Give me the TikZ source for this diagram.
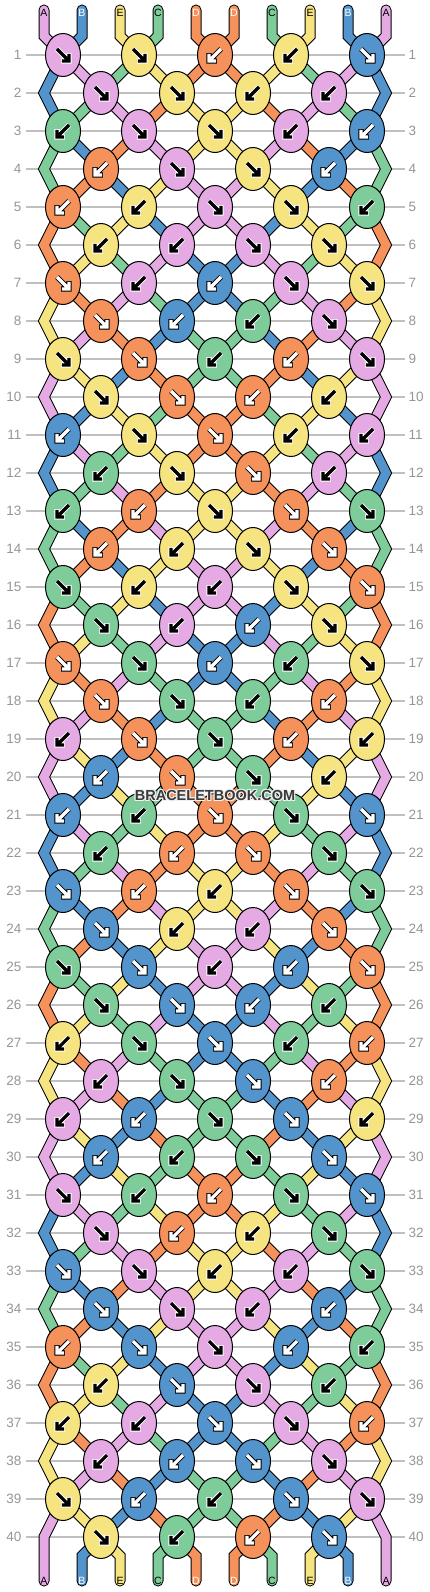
\documentclass[tikz,border=0pt]{standalone}
\usepackage{fontspec}
\setmainfont{Liberation Sans}
\usetikzlibrary{shapes.geometric}
\definecolor{cA}{RGB}{229,170,228}
\definecolor{cB}{RGB}{84,148,204}
\definecolor{cE}{RGB}{245,228,128}
\definecolor{cC}{RGB}{125,204,153}
\definecolor{cD}{RGB}{245,145,90}
\definecolor{gridgrey}{RGB}{192,192,192}
\definecolor{numgrey}{RGB}{150,150,150}
\definecolor{wmgrey}{RGB}{58,58,58}
\def\acolA{black}\def\hcolA{white}
\def\acolE{black}\def\hcolE{white}
\def\acolC{black}\def\hcolC{white}
\def\acolB{white}\def\hcolB{black}
\def\acolD{white}\def\hcolD{black}
\def\sgnR{1}\def\sgnL{-1}
\newcommand\buildpath[1]{%
  \xdef\curp{#1}%
  \pgfmathsetmacro\bpsx{44+38*#1}%
  \xdef\pathacc{(\bpsx,10) -- (\bpsx,36)}%
  \foreach \r in {1,...,40}{%
    \pgfmathtruncatemacro\bpodd{mod(\r,2)}%
    \pgfmathtruncatemacro\pcur{\curp}%
    \ifnum\bpodd=1
      \pgfmathtruncatemacro\bpq{\pcur-2*mod(\pcur,2)+1}%
    \else
      \ifnum\pcur=0 \def\bpq{0}\else\ifnum\pcur=9 \def\bpq{9}\else
        \pgfmathtruncatemacro\bpq{\pcur+2*mod(\pcur,2)-1}%
      \fi\fi
    \fi
    \pgfmathsetmacro\bpnx{44+19*(\pcur+\bpq)}%
    \pgfmathsetmacro\bpny{55+38*(\r-1)}%
    \xdef\pathacc{\pathacc -- (\bpnx,\bpny)}%
    \xdef\curp{\bpq}%
  }%
  \pgfmathsetmacro\bpex{44+38*\curp}%
  \xdef\pathacc{\pathacc -- (\bpex,1556) -- (\bpex,1581)}%
}
\newcommand\knotrow[2]{%
  \foreach \kc/\kd [count=\k from 0] in {#2}{%
    \pgfmathsetmacro\kx{63+76*\k+38*(1-mod(#1,2))}%
    \pgfmathsetmacro\ky{55+38*(#1-1)}%
    \node[knot,fill=c\kc] (k#1-\k) at (\kx,\ky) {};
    \edef\asg{\csname sgn\kd\endcsname}%
    \edef\acl{\csname acol\kc\endcsname}%
    \edef\hcl{\csname hcol\kc\endcsname}%
    \begin{scope}[shift={(\kx,\ky)},xscale=\asg]
      \draw[arrowhalo,draw=\hcl] (-6,-6) -- (6,6) (-1.8,6) -- (6,6) -- (6,-1.8);
      \draw[arrowline,draw=\acl] (-6,-6) -- (6,6) (-1.2,6) -- (6,6) -- (6,-1.2);
    \end{scope}
  }%
}
\begin{document}
\begin{tikzpicture}[x=1pt,y=-1pt,
  gridline/.style={draw=gridgrey,line width=1.2pt},
  rownum/.style={text=numgrey,font=\fontsize{13.5}{14}\selectfont,inner sep=0pt},
  strout/.style={line width=11pt,draw=black,line cap=round,line join=miter},
  strfill/.style={line width=9pt,line cap=round,line join=miter},
  knot/.style={ellipse,draw=black,line width=1pt,minimum width=35pt,minimum height=43pt,inner sep=0pt},
  arrowline/.style={line width=3.2pt,line cap=butt,line join=miter},
  arrowhalo/.style={line width=5.2pt,line cap=butt,line join=miter},
  strlabel/.style={font=\fontsize{10.5}{11}\selectfont,inner sep=0pt},
  wm/.style={font=\bfseries\fontsize{14.5}{15}\selectfont,inner sep=0pt}
]
\useasboundingbox[fill=white] (0,0) rectangle (430,1592);
% grid and row numbers
\foreach \r in {1,...,40}{
  \pgfmathsetmacro\yy{55+38*(\r-1)}
  \coordinate (gl\r) at (26,\yy);
  \coordinate (gr\r) at (405,\yy);
  \draw[gridline] (gl\r) -- (gr\r);
  \node[rownum,anchor=east] (nl\r) at (21.5,\yy) {\r};
  \node[rownum,anchor=west] (nr\r) at (408.5,\yy) {\r};
}
% strings
\foreach \p in {0,...,9}{
  \buildpath{\p}
  \edef\tmp{\noexpand\draw[strout] \pathacc;}\tmp
}
\foreach \p/\c in {0/cA,1/cB,2/cE,3/cC,4/cD,5/cD,6/cC,7/cE,8/cB,9/cA}{
  \buildpath{\p}
  \edef\tmp{\noexpand\draw[strfill,draw=\c] \pathacc;}\tmp
}
% string labels
\foreach \p/\l/\t in {0/A/black,1/B/white,2/E/black,3/C/black,4/D/white,5/D/white,6/C/black,7/E/black,8/B/white,9/A/black}{
  \pgfmathsetmacro\lx{44+38*\p}
  \node[strlabel,text=\t] (tl\p) at (\lx,12.5) {\l};
  \node[strlabel,text=\t] (bl\p) at (\lx,1581) {\l};
}
% knots
\knotrow{1}{A/R,E/R,D/L,E/L,B/R}
\knotrow{2}{A/R,E/R,E/L,A/L}
\knotrow{3}{C/L,A/R,E/R,A/L,B/L}
\knotrow{4}{D/L,A/R,E/R,B/L}
\knotrow{5}{D/L,E/L,A/R,E/R,C/L}
\knotrow{6}{E/L,A/L,A/R,E/R}
\knotrow{7}{D/R,A/L,B/L,A/R,E/R}
\knotrow{8}{D/R,B/L,C/L,A/R}
\knotrow{9}{E/R,D/R,C/L,D/L,A/R}
\knotrow{10}{E/R,D/R,D/L,E/L}
\knotrow{11}{B/L,E/R,D/R,E/L,A/L}
\knotrow{12}{C/L,E/R,D/R,A/L}
\knotrow{13}{C/L,D/L,E/R,D/R,C/R}
\knotrow{14}{D/L,E/L,E/R,D/R}
\knotrow{15}{C/R,E/L,A/L,E/R,D/R}
\knotrow{16}{C/R,A/L,B/L,E/R}
\knotrow{17}{D/R,C/R,B/L,C/L,E/R}
\knotrow{18}{D/R,C/R,C/L,D/L}
\knotrow{19}{A/L,D/R,C/R,D/L,E/L}
\knotrow{20}{B/L,D/R,C/R,E/L}
\knotrow{21}{B/L,C/L,D/R,C/R,B/R}
\knotrow{22}{C/L,D/L,D/R,C/R}
\knotrow{23}{B/R,D/L,E/L,D/R,C/R}
\knotrow{24}{B/R,E/L,A/L,D/R}
\knotrow{25}{C/R,B/R,A/L,B/L,D/R}
\knotrow{26}{C/R,B/R,B/L,C/L}
\knotrow{27}{E/L,C/R,B/R,C/L,D/L}
\knotrow{28}{A/L,C/R,B/R,D/L}
\knotrow{29}{A/L,B/L,C/R,B/R,E/L}
\knotrow{30}{B/L,C/L,C/R,B/R}
\knotrow{31}{A/R,C/L,D/L,C/R,B/R}
\knotrow{32}{A/R,D/L,E/L,C/R}
\knotrow{33}{B/R,A/R,E/L,A/L,C/R}
\knotrow{34}{B/R,A/R,A/L,B/L}
\knotrow{35}{D/L,B/R,A/R,B/L,C/L}
\knotrow{36}{E/L,B/R,A/R,C/L}
\knotrow{37}{E/L,A/L,B/R,A/R,D/L}
\knotrow{38}{A/L,B/L,B/R,A/R}
\knotrow{39}{E/R,B/L,C/L,B/R,A/R}
\knotrow{40}{E/R,C/L,D/L,B/R}
% watermark
\foreach \dx/\dy in {-1/0,1/0,0/-1,0/1,-1/-1,1/1,-1/1,1/-1}{
  \node[wm,text=white!88!gray] at (215+\dx,795+\dy) {BRACELETBOOK.COM};
}
\node[wm,text=wmgrey] (wm) at (215,795) {BRACELETBOOK.COM};
\end{tikzpicture}
\end{document}
